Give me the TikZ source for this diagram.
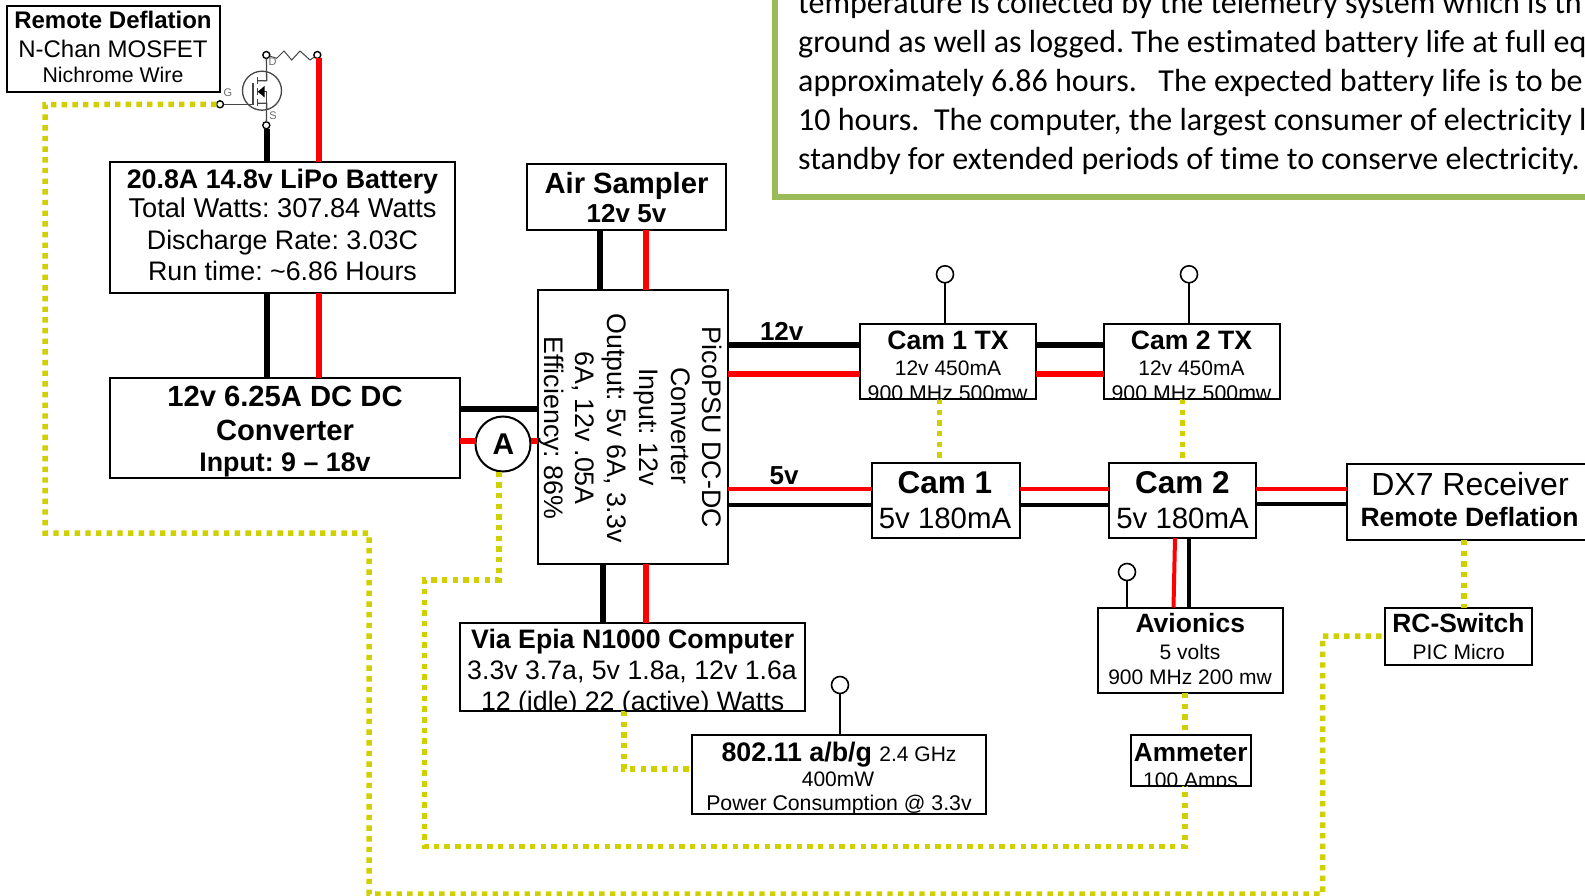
\documentclass[tikz,border=0pt]{standalone}
\usepackage{fontspec}
\setmainfont{Liberation Sans}
\newfontfamily\calfont[Ligatures=NoCommon]{Carlito}
\definecolor{wirered}{RGB}{255,0,0}
\definecolor{sigy}{RGB}{208,208,0}
\definecolor{panelgreen}{RGB}{155,187,89}
\definecolor{fetgray}{RGB}{70,70,70}
\newcounter{tn}
\newcommand\bx[5]{\pgfmathsetmacro\bw{#4-#2}\pgfmathsetmacro\bh{#5-#3}%
 \node[boxn,minimum width=\bw pt,minimum height=\bh pt] (#1) at ({(#2+#4)/2},{(#3+#5)/2}) {};}
\newcommand\tl[5][]{\stepcounter{tn}\node[anchor=base,inner sep=0pt,#1] (t\arabic{tn}) at (#2,#3) {\frenchspacing\fontsize{#4}{#4}\selectfont #5};}
\newcommand\vw[4]{\coordinate (tmpw) at (#2,0); \draw[#1] (tmpw |- #3) -- (tmpw |- #4);}
\newcommand\hw[4]{\coordinate (tmpw) at (0,#2); \draw[#1] (tmpw -| #3) -- (tmpw -| #4);}
\newcommand\ant[3]{\node[antn] (#1) at (#2,#3) {};}
\tikzset{
 boxn/.style={draw=black,line width=2pt,inner sep=0pt,outer sep=0pt},
 antn/.style={circle,draw=black,line width=1.6pt,fill=white,minimum size=17pt,inner sep=0pt,outer sep=0pt},
 termn/.style={circle,draw=black,line width=1.4pt,fill=white,minimum size=7pt,inner sep=0pt,outer sep=0pt},
 antl/.style={draw=black,line width=1.6pt},
 bkw/.style={draw=black,line width=6pt},
 rdw/.style={draw=wirered,line width=6pt},
 bkn/.style={draw=black,line width=4pt},
 rdn/.style={draw=wirered,line width=4pt},
 sigw/.style={draw=sigy,line width=5.5pt,dash pattern=on 5.4pt off 5.27pt},
 fet/.style={draw=fetgray,line width=1.3pt},
}
\begin{document}
\begin{tikzpicture}[x=1pt,y=-1pt]
\useasboundingbox (0,0) rectangle (1585,896);
\clip (0,0) rectangle (1585,896);
\fill[white] (0,0) rectangle (1585,896);
% panel
\draw[draw=panelgreen,line width=6.5pt] (775,-30) rectangle (1640,197);
\begin{scope}[every node/.append style={anchor=base west,inner sep=0pt,font=\calfont\frenchspacing\fontsize{32}{32}\selectfont}]
\node (p1) at (798,14) {temperature is collected by the telemetry system which is th};
\node (p2) at (798,53) {ground as well as logged. The estimated battery life at full eq};
\node (p3) at (798,92) {approximately 6.86 hours.\ \ \ The expected battery life is to be};
\node (p4) at (798,131) {10 hours.\ \ The computer, the largest consumer of electricity l};
\node (p5) at (798,169.5) {standby for extended periods of time to conserve electricity.};
\end{scope}
% boxes
\bx{rd}{7}{6}{220}{92}
\bx{bat}{109.5}{162}{455}{293}
\bx{conv}{109.5}{378}{460}{478}
\bx{air}{527}{164}{726}{230}
\bx{pico}{538}{289.5}{728}{564}
\bx{comp}{459.5}{622.5}{805}{711}
\bx{wifi}{691.5}{735}{986}{814}
\bx{ctx1}{859.5}{323.5}{1036}{399}
\bx{ctx2}{1103.5}{323.5}{1280}{399}
\bx{cam1}{872}{462.5}{1020}{538}
\bx{cam2}{1108.5}{462.5}{1256}{538}
\bx{dx}{1347}{464}{1640}{540}
\bx{avi}{1097.5}{607.5}{1283}{693}
\bx{amm}{1130.5}{735}{1251}{786}
\bx{rcs}{1385}{607.5}{1532}{665}
\node[circle,draw=black,line width=2pt,fill=white,minimum size=55pt,inner sep=0pt,outer sep=0pt] (A) at (503,444) {};
% MOSFET
\node[termn] (D) at (266.3,55) {};
\node[termn] (R) at (317.3,55) {};
\node[termn] (S) at (266.3,125.3) {};
\node[termn] (G) at (220,104.3) {};
\node[circle,draw=fetgray,line width=1.3pt,minimum size=39pt,inner sep=0pt,outer sep=0pt] (Q) at (262,90.7) {};
\draw[fet] (D) -- (266.7,80.7) -- (257.3,80.7);
\draw[fet] (S) -- (266.7,103.3) -- (257.3,103.3);
\draw[fet] (257.3,91.7) -- (266.7,91.7) -- (266.7,103.3);
\draw[fet] (G) -- (253,104.3) -- (253,82.7);
\draw[fet] (257.3,77.5) -- (257.3,84.5) (257.3,88) -- (257.3,95) (257.3,99.5) -- (257.3,106.5);
\fill[black] (257.8,91.7) -- (264.5,86) -- (264.5,97.4) -- cycle;
\draw[fetgray,line width=1pt] (D) -- (276.7,58.3) -- (284,51) -- (291.7,60) -- (300,51) -- (310,60) -- (R);
\tl[text=fetgray!80]{272.7}{66}{11}{D}
\tl[text=fetgray!80]{273}{120}{11}{S}
\tl[text=fetgray!80]{228}{97}{11}{G}
% power wires
\vw{bkw}{266.5}{S.south}{bat.north}
\vw{rdw}{319}{R.south}{bat.north}
\vw{bkw}{266.5}{bat.south}{conv.north}
\vw{rdw}{319}{bat.south}{conv.north}
\vw{bkw}{600}{air.south}{pico.north}
\vw{rdw}{646}{air.south}{pico.north}
\vw{bkw}{602.7}{pico.south}{comp.north}
\vw{rdw}{646}{pico.south}{comp.north}
\hw{bkw}{409.3}{conv.east}{pico.west}
\hw{rdw}{441}{conv.east}{A.west}
\hw{rdw}{441}{A.east}{pico.west}
\hw{bkw}{345.3}{pico.east}{ctx1.west}
\hw{rdw}{374.3}{pico.east}{ctx1.west}
\hw{bkw}{345.3}{ctx1.east}{ctx2.west}
\hw{rdw}{374.3}{ctx1.east}{ctx2.west}
\hw{rdn}{489.3}{pico.east}{cam1.west}
\hw{bkn}{505}{pico.east}{cam1.west}
\hw{rdn}{489.3}{cam1.east}{cam2.west}
\hw{bkn}{505}{cam1.east}{cam2.west}
\hw{rdn}{489.3}{cam2.east}{dx.west}
\hw{bkn}{504}{cam2.east}{dx.west}
\draw[draw=wirered,line width=4pt] (cam2.south -| 1175,0) -- (avi.north -| 1173.5,0);
\vw{bkn}{1189}{cam2.south}{avi.north}
% signal wires
\draw[sigw] (G.west) -- (45,104.6) -- (45,533) -- (369,533) -- (369,894) -- (1322.6,894) -- (1322.6,636) -- (rcs.west |- 0,636);
\draw[sigw] (A.south -| 499,0) -- (499,580) -- (424.5,580) -- (424.5,846.5) -- (1185,846.5) -- (amm.south -| 1185,0);
\vw{sigw}{1185}{avi.south}{amm.north}
\vw{sigw}{939.3}{ctx1.south}{cam1.north}
\vw{sigw}{1182.5}{ctx2.south}{cam2.north}
\vw{sigw}{1464}{dx.south}{rcs.north}
\draw[sigw] (comp.south -| 624,0) -- (624,769) -- (wifi.west |- 0,769);
% antennas
\ant{a1}{945}{274.3}
\ant{a2}{1189}{274.3}
\ant{a3}{1127}{572}
\ant{a4}{840}{685}
\draw[antl] (a1.south) -- (a1.south |- ctx1.north);
\draw[antl] (a2.south) -- (a2.south |- ctx2.north);
\draw[antl] (a3.south) -- (a3.south |- avi.north);
\draw[antl] (a4.south) -- (a4.south |- wifi.north);
% texts
\tl{113}{29}{24}{\bfseries Remote Deflation}
\tl{113}{58}{24}{N-Chan MOSFET}
\tl{113}{82.5}{21.3}{Nichrome Wire}
\tl{282.5}{188.7}{26.8}{\bfseries 20.8A 14.8v LiPo Battery}
\tl{282.5}{218}{27.2}{Total Watts: 307.84 Watts}
\tl{282.5}{249}{26.8}{Discharge Rate: 3.03C}
\tl{282.5}{280.3}{26.8}{Run time: \char"7E 6.86 Hours}
\tl{285}{406.7}{29.2}{\bfseries 12v 6.25A DC DC}
\tl{285}{440.3}{29.2}{\bfseries Converter}
\tl{285}{471.7}{26.8}{\bfseries Input: 9 – 18v}
\tl{626.5}{194}{29.2}{\bfseries Air Sampler}
\tl{626.5}{223}{26}{\bfseries 12v 5v}
\tl[rotate=-90]{702}{427.5}{26.8}{PicoPSU DC-DC}
\tl[rotate=-90]{671}{426}{26.8}{Converter}
\tl[rotate=-90]{639.5}{427}{26.8}{Input: 12v}
\tl[rotate=-90]{607}{428}{26.8}{Output: 5v 6A, 3.3v}
\tl[rotate=-90]{575}{428}{26.8}{6A, 12v .05A}
\tl[rotate=-90]{544}{428}{26.8}{Efficiency: 86\%}
\tl{503.5}{454.5}{30}{\bfseries A}
\tl{781.7}{340}{26}{\bfseries 12v}
\tl{784}{484}{26}{\bfseries 5v}
\tl{948}{349.3}{26.6}{\bfseries Cam 1 TX}
\tl{948}{375.5}{21}{12v 450mA}
\tl{1191.5}{349.3}{26.6}{\bfseries Cam 2 TX}
\tl{1191.5}{375.5}{21}{12v 450mA}
\begin{scope}
\clip (ctx1.south west) rectangle (ctx1.north east);
\tl{947.6}{400}{21.3}{900 MHz 500mw}
\end{scope}
\begin{scope}
\clip (ctx2.south west) rectangle (ctx2.north east);
\tl{1191.5}{400}{21.3}{900 MHz 500mw}
\end{scope}
\tl{945}{493.7}{31.5}{\bfseries Cam 1}
\tl{945}{528.3}{29.4}{5v 180mA}
\tl{1182.5}{493.7}{31.5}{\bfseries Cam 2}
\tl{1182.5}{528.3}{29.4}{5v 180mA}
\tl{1470}{495.5}{32}{DX7 Receiver}
\tl{1469.5}{526.5}{26.5}{\bfseries Remote Deflation}
\tl{632.7}{648.8}{26.7}{\bfseries Via Epia N1000 Computer}
\tl{632}{679}{26.7}{3.3v 3.7a, 5v 1.8a, 12v 1.6a}
\begin{scope}
\clip (comp.south west) rectangle (comp.north east);
\tl{632.6}{710}{26.7}{12 (idle) 22 (active) Watts}
\end{scope}
\tl{839}{761}{26.8}{{\bfseries 802.11 a/b/g} {\fontsize{21}{21}\selectfont 2.4 GHz}}
\tl{838}{786.5}{21}{400mW}
\begin{scope}
\clip (wifi.south west) rectangle (wifi.north east);
\tl{839}{810.5}{21.3}{Power Consumption @ 3.3v}
\end{scope}
\tl{1190.3}{632.7}{26.5}{\bfseries Avionics}
\tl{1190}{659}{21}{5 volts}
\tl{1190}{684}{21}{900 MHz 200 mw}
\tl{1190.7}{761.5}{26.2}{\bfseries Ammeter}
\begin{scope}
\clip (amm.south west) rectangle (amm.north east);
\tl{1190.5}{787}{21}{100 Amps}
\end{scope}
\tl{1458.4}{632.7}{26.4}{\bfseries RC-Switch}
\tl{1458.8}{659}{21}{PIC Micro}
\end{tikzpicture}
\end{document}
